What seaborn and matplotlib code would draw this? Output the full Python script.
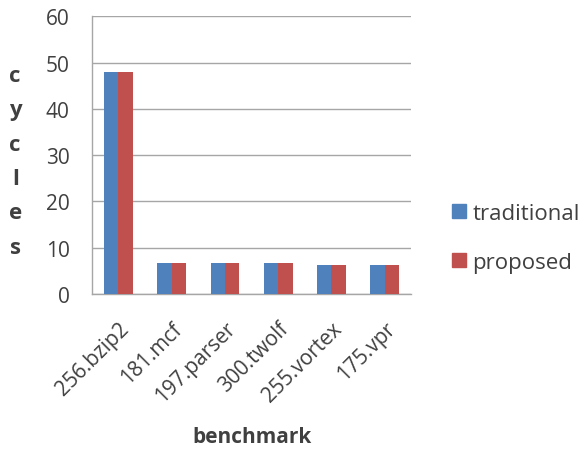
import matplotlib
matplotlib.use("Agg")
import matplotlib.pyplot as plt
import seaborn as sns
import pandas as pd
from matplotlib.patches import Patch

benchmarks = ["256.bzip2", "181.mcf", "197.parser", "300.twolf", "255.vortex", "175.vpr"]
traditional = [48, 6.7, 6.7, 6.7, 6.4, 6.4]
proposed = [48, 6.7, 6.7, 6.7, 6.4, 6.4]
series = ["traditional", "proposed"]
colors = ["#4F81BD", "#C0504D"]
yticks = [0, 10, 20, 30, 40, 50, 60]

df = pd.DataFrame({
    "benchmark": benchmarks * 2,
    "cycles": traditional + proposed,
    "series": [series[0]] * len(benchmarks) + [series[1]] * len(benchmarks),
})

sns.set_style("white")
plt.rcParams["font.family"] = ["Open Sans", "DejaVu Sans"]
text_color = "#404040"
grid_color = "#A6A6A6"

fig = plt.figure(figsize=(5.85, 4.52), dpi=100)
ax = fig.add_axes([0.157, 0.347, 0.546, 0.615])

sns.barplot(data=df, x="benchmark", y="cycles", hue="series", palette=colors,
            width=0.54, gap=0, saturation=1, linewidth=0, ax=ax,
            legend=False, zorder=3)

ax.set_ylim(0, 60)
ax.set_xlim(-0.5, len(benchmarks) - 0.5)
ax.set_yticks(yticks)
ax.yaxis.grid(True, color=grid_color, linewidth=1, zorder=0)
ax.set_axisbelow(True)

for side in ["top", "right"]:
    ax.spines[side].set_visible(False)
for side in ["left", "bottom"]:
    ax.spines[side].set_color(grid_color)
    ax.spines[side].set_linewidth(1)

ax.tick_params(axis="y", length=7, color=grid_color, labelsize=15,
               labelcolor=text_color, pad=9)
ax.tick_params(axis="x", which="major", length=0, labelsize=15,
               labelcolor=text_color, pad=17)
ax.set_xticks([i - 0.5 for i in range(len(benchmarks) + 1)], minor=True)
ax.tick_params(axis="x", which="minor", length=6, color=grid_color)
for lbl in ax.get_xticklabels():
    lbl.set_rotation(45)
    lbl.set_ha("right")
    lbl.set_rotation_mode("anchor")

ax.set_xlabel("benchmark", fontsize=15, fontweight="bold", color=text_color)
ax.xaxis.set_label_coords(0.5, -0.475)
ax.set_ylabel("")
fig.text(0.026, 0.641, "c\ny\nc\nl\ne\ns", ha="center", va="center",
         fontsize=16, fontweight="bold", color=text_color, linespacing=1.84)

handles = [Patch(facecolor=c, edgecolor=c) for c in colors]
fig.legend(handles, series, loc="center left", bbox_to_anchor=(0.773, 0.471),
           frameon=False, fontsize=16, labelcolor=text_color, borderpad=0,
           borderaxespad=0, handlelength=0.6, handleheight=0.6,
           handletextpad=0.3, labelspacing=1.27)

fig.savefig("out.png", dpi=100)
